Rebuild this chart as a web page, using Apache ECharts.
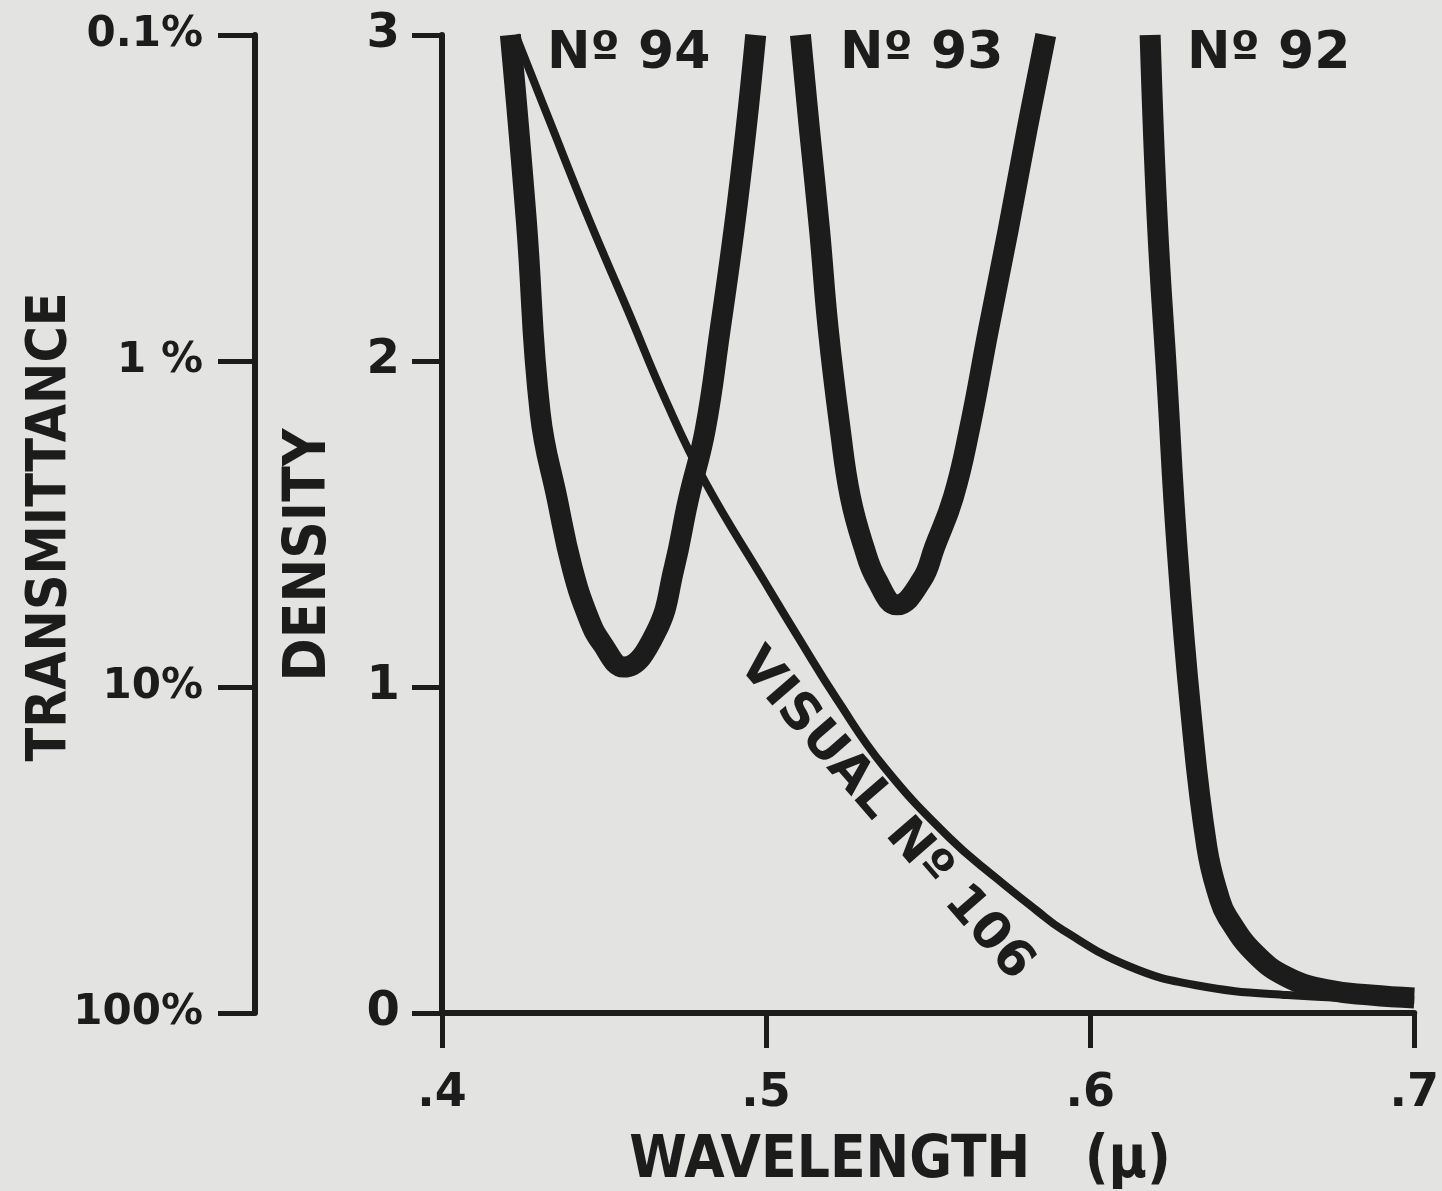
<!DOCTYPE html>
<html>
<head>
<meta charset="utf-8">
<script src="https://cdn.jsdelivr.net/npm/echarts@6/dist/echarts.min.js"></script>
<style>
  html, body { margin: 0; padding: 0; background: #e3e3e1; }
  #chart { width: 1442px; height: 1191px; }
</style>
</head>
<body>
<div id="chart"></div>
<script>
// wavelength (micron) and density
const lam94 = [0.4211, 0.4260, 0.4303, 0.4356, 0.4401, 0.4451, 0.4493, 0.4561, 0.4659, 0.4717, 0.4760, 0.4812, 0.4858, 0.4901, 0.4938, 0.4968];
const den94 = [3.0, 2.433, 1.840, 1.574, 1.368, 1.215, 1.135, 1.061, 1.166, 1.368, 1.574, 1.788, 2.095, 2.402, 2.709, 3.0];

const lam93 = [0.5106, 0.5134, 0.5165, 0.5192, 0.5229, 0.5260, 0.5302, 0.5342, 0.5404, 0.5480, 0.5520, 0.5578, 0.5627, 0.5686, 0.5747, 0.5805, 0.5863];
const den93 = [3.0, 2.709, 2.402, 2.095, 1.788, 1.583, 1.429, 1.328, 1.252, 1.328, 1.429, 1.583, 1.788, 2.095, 2.402, 2.709, 3.0];

const lam92 = [0.6185, 0.6207, 0.6237, 0.6268, 0.6311, 0.6360, 0.6400, 0.6424, 0.6507, 0.6608, 0.6731, 0.6865, 0.7000];
const den92 = [3.0, 2.433, 1.942, 1.429, 0.920, 0.509, 0.347, 0.294, 0.184, 0.110, 0.071, 0.055, 0.046];

const lam106 = [0.4227, 0.4331, 0.4454, 0.4573, 0.4690, 0.4812, 0.4996, 0.5097, 0.5220, 0.5364, 0.5566, 0.5710, 0.5833, 0.5915, 0.6118, 0.6323, 0.6608, 0.7000];
const den106 = [3.0, 2.739, 2.433, 2.156, 1.880, 1.629, 1.322, 1.156, 0.960, 0.755, 0.537, 0.414, 0.316, 0.255, 0.144, 0.086, 0.055, 0.040];

const xTicks = { 0.4: '.4', 0.5: '.5', 0.6: '.6', 0.7: '.7' };
const transLabels = ['100%', '10%', '1 %', '0.1%'];

const ink = '#1c1c1c';
const roundFont = '"DejaVu Sans", "Noto Sans", sans-serif';
const narrowFont = '"DejaVu Sans Condensed", "Liberation Sans Narrow", "DejaVu Sans", sans-serif';

function zip(xs, ys) {
  return xs.map(function (x, i) { return [x, ys[i]]; });
}

function curve(name, xs, ys, width) {
  return {
    name: name,
    type: 'line',
    data: zip(xs, ys),
    showSymbol: false,
    smooth: 0.45,
    clip: true,
    lineStyle: { color: ink, width: width, cap: 'butt', join: 'round' },
    silent: true
  };
}

const chart = echarts.init(document.getElementById('chart'));
chart.setOption({
  backgroundColor: '#e3e3e1',
  animation: false,
  grid: { left: 442, right: 21, top: 35, bottom: 178 },
  xAxis: {
    type: 'value', min: 0.4, max: 0.7, interval: 0.1,
    axisLine: { onZero: false, lineStyle: { color: ink, width: 6 } },
    axisTick: { show: true, inside: false, length: 35, lineStyle: { color: ink, width: 5 } },
    axisLabel: {
      margin: 58, color: ink, fontSize: 46, fontWeight: 'bold', fontFamily: roundFont,
      formatter: function (v) { return xTicks[Math.round(v * 10) / 10] || ''; }
    },
    splitLine: { show: false }
  },
  yAxis: [
    {
      type: 'value', min: 0, max: 3, interval: 1, position: 'left',
      axisLine: { show: true, onZero: false, lineStyle: { color: ink, width: 6 } },
      axisTick: { show: true, inside: false, length: 30, lineStyle: { color: ink, width: 5 } },
      axisLabel: { margin: 42, color: ink, fontSize: 48, fontWeight: 'bold', fontFamily: roundFont },
      splitLine: { show: false }
    },
    {
      type: 'value', min: 0, max: 3, interval: 1, position: 'left', offset: 187,
      axisLine: { show: true, onZero: false, lineStyle: { color: ink, width: 6 } },
      axisTick: { show: true, inside: false, length: 37, lineStyle: { color: ink, width: 5 } },
      axisLabel: {
        margin: 52, color: ink, fontSize: 42, fontWeight: 'bold', fontFamily: roundFont,
        formatter: function (v) { return transLabels[Math.round(v)]; }
      },
      splitLine: { show: false }
    }
  ],
  series: [
    curve('Nº 94', lam94, den94, 21),
    curve('Nº 93', lam93, den93, 21),
    curve('Nº 92', lam92, den92, 21),
    curve('VISUAL Nº 106', lam106, den106, 8)
  ],
  graphic: [
    { type: 'text', left: 547, top: 28, style: { text: 'Nº 94', fill: ink, font: 'bold 52px ' + roundFont } },
    { type: 'text', left: 840, top: 28, style: { text: 'Nº 93', fill: ink, font: 'bold 52px ' + roundFont } },
    { type: 'text', left: 1187, top: 28, style: { text: 'Nº 92', fill: ink, font: 'bold 52px ' + roundFont } },
    {
      type: 'text', x: 885, y: 815, rotation: -0.855,
      style: { text: 'VISUAL Nº 106', fill: ink, font: 'bold 51px ' + roundFont, align: 'center', verticalAlign: 'middle' }
    },
    {
      type: 'text', x: 310, y: 555, rotation: Math.PI / 2,
      style: { text: 'DENSITY', fill: ink, font: 'bold 58px ' + narrowFont, align: 'center', verticalAlign: 'middle' }
    },
    {
      type: 'text', x: 51, y: 527, rotation: Math.PI / 2,
      style: { text: 'TRANSMITTANCE', fill: ink, font: 'bold 55px ' + narrowFont, align: 'center', verticalAlign: 'middle' }
    },
    {
      type: 'text', x: 900, y: 1162,
      style: { text: 'WAVELENGTH   (μ)', fill: ink, font: 'bold 58px ' + narrowFont, align: 'center', verticalAlign: 'middle' }
    }
  ]
});
</script>
</body>
</html>
